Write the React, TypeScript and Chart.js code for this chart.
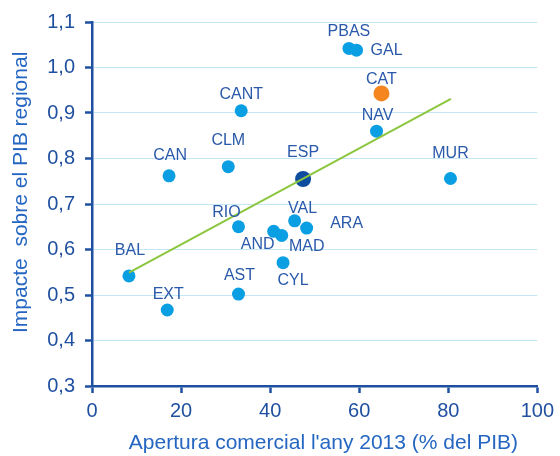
import { useEffect, useRef } from "react";
import { Chart, registerables } from "chart.js";

Chart.register(...registerables);

// ---- data ----
const regions = ["BAL", "EXT", "AST", "CAN", "CLM", "CANT", "RIO", "AND", "MAD", "VAL", "ARA", "CYL", "ESP", "MUR", "NAV", "CAT", "PBAS", "GAL"];
const openness = [8.3, 16.9, 32.9, 17.3, 30.6, 33.5, 32.9, 40.8, 42.6, 45.5, 48.2, 42.9, 47.4, 80.5, 63.9, 65.0, 57.7, 59.4];
const impact = [0.542, 0.467, 0.502, 0.762, 0.782, 0.905, 0.650, 0.640, 0.631, 0.663, 0.647, 0.571, 0.755, 0.756, 0.860, 0.943, 1.042, 1.038];
const trendX = [8.3, 80.6];
const trendY = [0.549, 0.931];
const xTicks = [0, 20, 40, 60, 80, 100];
const yTicks = [0.3, 0.4, 0.5, 0.6, 0.7, 0.8, 0.9, 1.0, 1.1];

// label placement relative to each point (style)
const labelOffsets: [number, number][] = [
  [1, -25], [1, -15], [1, -18], [1, -20], [0, -26], [0, -16], [-12, -14], [-16, 13], [25, 11],
  [8, -12], [40, -5], [10, 18], [0, -26], [0, -25], [1, -16], [0, -14], [0, -17], [30, 0],
];

const AXIS = "#1E50A2";
const TICK_TEXT = "#1F4F9F";
const TITLE = "#2466C2";
const LABEL = "#2A59AA";
const GRID = "#C4E7F8";
const DOT = "#0A9FE3";
const DOT_ESP = "#0D4C9E";
const DOT_CAT = "#F5861F";
const TREND = "#8CC63F";
const FONT = 'Arial, "Liberation Sans", Helvetica, sans-serif';

const labelPlugin = {
  id: "regionLabels",
  afterDatasetsDraw(chart: any) {
    const meta = chart.getDatasetMeta(1);
    const ctx = chart.ctx;
    ctx.save();
    ctx.font = `16px ${FONT}`;
    ctx.fillStyle = LABEL;
    ctx.textAlign = "center";
    ctx.textBaseline = "middle";
    meta.data.forEach((el: any, i: number) => {
      const [dx, dy] = labelOffsets[i];
      ctx.fillText(regions[i], el.x + dx, el.y + dy);
    });
    ctx.restore();
  },
};

export default function App() {
  const ref = useRef<HTMLCanvasElement | null>(null);
  useEffect(() => {
    document.body.style.margin = "0";
    const canvas = ref.current;
    if (!canvas) return;
    const colors = regions.map((r) => (r === "ESP" ? DOT_ESP : r === "CAT" ? DOT_CAT : DOT));
    const radii = regions.map((r) => (r === "ESP" || r === "CAT" ? 8 : 6.5));
    const chart = new Chart(canvas, {
      type: "scatter",
      data: {
        datasets: [
          {
            label: "Tendència",
            data: trendX.map((x, i) => ({ x, y: trendY[i] })),
            showLine: true,
            borderColor: TREND,
            borderWidth: 2,
            pointRadius: 0,
            order: 0,
          },
          {
            label: "Regions",
            data: openness.map((x, i) => ({ x, y: impact[i] })),
            backgroundColor: colors,
            pointBackgroundColor: colors,
            pointBorderWidth: 0,
            pointRadius: radii,
            pointHoverRadius: radii,
            order: 1,
          },
        ],
      },
      options: {
        animation: false,
        responsive: false,
        devicePixelRatio: 1,
        layout: { padding: { top: 19, right: 20, bottom: 0, left: 0 } },
        plugins: { legend: { display: false }, tooltip: { enabled: false } },
        scales: {
          x: {
            type: "linear",
            position: "bottom",
            min: 0,
            max: 100,
            afterFit: (s: any) => { s.height = 70; },
            afterBuildTicks: (s: any) => { s.ticks = xTicks.map((v) => ({ value: v })); },
            ticks: { font: { size: 20, family: FONT }, color: TICK_TEXT, padding: 6, maxRotation: 0, autoSkip: false },
            grid: { drawOnChartArea: false, drawTicks: true, tickLength: 7, tickColor: AXIS, tickWidth: 2.5, color: AXIS },
            border: { color: AXIS, width: 2.5 },
            title: {
              display: true,
              text: "   Apertura comercial l'any 2013 (% del PIB)",
              font: { size: 21, family: FONT },
              color: TITLE,
              padding: { top: 0, bottom: 0 },
            },
          },
          y: {
            type: "linear",
            min: 0.3,
            max: 1.1,
            afterFit: (s: any) => { s.width = 92; },
            afterBuildTicks: (s: any) => { s.ticks = yTicks.map((v) => ({ value: v })); },
            ticks: {
              font: { size: 20, family: FONT },
              color: TICK_TEXT,
              padding: 10,
              autoSkip: false,
              callback: (v: any) => Number(v).toFixed(1).replace(".", ","),
            },
            grid: { color: GRID, lineWidth: 1, drawTicks: true, tickLength: 7, tickColor: AXIS, tickWidth: 2.5 },
            border: { color: AXIS, width: 2.5 },
            title: {
              display: true,
              text: "    Impacte  sobre el PIB regional",
              font: { size: 21, family: FONT },
              color: TITLE,
              padding: { top: 9, bottom: 0 },
            },
          },
        },
      },
      plugins: [labelPlugin],
    });
    return () => chart.destroy();
  }, []);
  return <canvas ref={ref} width={560} height={456} style={{ display: "block" }} />;
}
